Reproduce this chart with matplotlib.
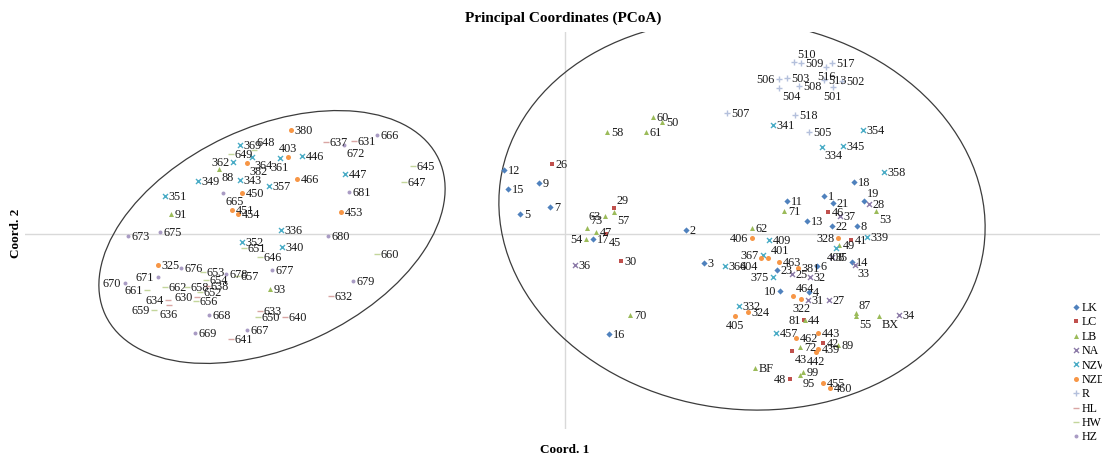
import matplotlib
matplotlib.use("Agg")
import matplotlib.pyplot as plt
from matplotlib.patches import Ellipse

plt.rcParams['font.family'] = ['Liberation Serif', 'DejaVu Serif']

# Dados: coordenadas estimadas (Coord. 1, Coord. 2) por grupo
lk_ids = ['1', '2', '3', '4', '5', '6', '7', '8', '9', '10', '11', '12', '13', '14',
          '15', '16', '17', '18', '19', '21', '22', '23']
lk_x = [2.59, 1.21, 1.39, 2.44, -0.45, 2.52, -0.15, 2.92, -0.26, 2.15, 2.22, -0.61, 2.42, 2.87,
        -0.57, 0.44, 0.28, 2.89, 2.99, 2.68, 2.67, 2.12]
lk_y = [0.38, 0.04, -0.29, -0.58, 0.20, -0.32, 0.27, 0.08, 0.51, -0.57, 0.33, 0.64, 0.13, -0.28,
        0.45, -1.00, -0.05, 0.52, 0.33, 0.31, 0.08, -0.36]

lc_ids = ['26', '29', '30', '41', '42', '43', '44', '45', '46', '48']
lc_x = [-0.13, 0.49, 0.56, 2.86, 2.58, 2.27, 2.39, 0.41, 2.63, 2.25]
lc_y = [0.70, 0.26, -0.27, -0.06, -1.09, -1.17, -0.86, 0.00, 0.22, -1.45]

lb_ids = ['47', '49', '50', '53', '54', '55', '57', '58', '60', '61', '62', '63', '70', '71',
          '72', '73', '81', '87', '88', '89', '91', '93', '95', '99', 'BF', 'BX']
lb_x = [0.31, 2.74, 0.97, 3.11, 0.21, 2.91, 0.49, 0.42, 0.88, 0.81, 1.87, 0.40, 0.65, 2.19,
        2.35, 0.22, 2.40, 2.91, -3.46, 2.73, -3.94, -2.95, 2.35, 2.38, 1.90, 3.14]
lb_y = [0.02, -0.11, 1.12, 0.23, -0.05, -0.82, 0.22, 1.02, 1.17, 1.02, 0.06, 0.18, -0.81, 0.23,
        -1.13, 0.06, -0.86, -0.79, 0.65, -1.11, 0.20, -0.55, -1.41, -1.38, -1.34, -0.82]

na_ids = ['25', '27', '28', '31', '32', '33', '34', '35', '36', '37']
na_x = [2.27, 2.64, 3.04, 2.43, 2.45, 2.90, 3.34, 2.67, 0.10, 2.75]
na_y = [-0.40, -0.66, 0.30, -0.66, -0.43, -0.31, -0.81, -0.23, -0.31, 0.18]

nzw_ids = ['332', '334', '336', '339', '340', '341', '343', '345', '349', '351', '352', '354',
           '357', '358', '361', '362', '364', '366', '367', '369', '375', '408', '409', '446',
           '447', '457']
nzw_x = [1.74, 2.57, -2.84, 3.02, -2.83, 2.08, -3.25, 2.78, -3.67, -4.00, -3.23, 2.98,
         -2.96, 3.19, -2.85, -3.32, -3.13, 1.60, 1.98, -3.25, 2.08, 2.71, 2.04, -2.63,
         -2.20, 2.11]
nzw_y = [-0.72, 0.87, 0.04, -0.03, -0.13, 1.09, 0.54, 0.88, 0.53, 0.38, -0.08, 1.04,
         0.48, 0.62, 0.76, 0.72, 0.77, -0.32, -0.21, 0.89, -0.43, -0.14, -0.06, 0.78,
         0.60, -0.99]

nzd_ids = ['322', '324', '325', '328', '380', '381', '382', '401', '403', '404', '405', '406',
           '439', '442', '443', '450', '451', '453', '454', '455', '460', '462', '463', '464',
           '466']
nzd_x = [2.36, 1.83, -4.07, 2.73, -2.74, 2.33, -3.18, 2.03, -2.77, 1.96, 1.70, 1.87,
         2.53, 2.51, 2.53, -3.23, -3.33, -2.24, -3.27, 2.58, 2.65, 2.31, 2.14, 2.28,
         -2.68]
nzd_y = [-0.65, -0.78, -0.31, -0.04, 1.04, -0.34, 0.71, -0.24, 0.77, -0.24, -0.82, -0.04,
         -1.15, -1.18, -0.99, 0.41, 0.24, 0.22, 0.20, -1.49, -1.54, -1.04, -0.28, -0.62,
         0.55]

r_ids = ['501', '502', '503', '504', '505', '506', '507', '508', '509', '510', '513', '516',
         '517', '518']
r_x = [2.68, 2.77, 2.22, 2.14, 2.44, 2.14, 1.62, 2.34, 2.36, 2.29, 2.59, 2.61, 2.67, 2.30]
r_y = [1.47, 1.53, 1.56, 1.46, 1.02, 1.55, 1.21, 1.48, 1.71, 1.72, 1.54, 1.67, 1.71, 1.19]

hl_ids = ['630', '631', '632', '633', '634', '636', '637', '638', '640', '641']
hl_x = [-3.68, -2.11, -2.34, -3.05, -3.97, -3.96, -2.39, -3.58, -2.80, -3.34]
hl_y = [-0.63, 0.93, -0.62, -0.77, -0.66, -0.71, 0.92, -0.52, -0.83, -1.05]

hw_ids = ['645', '646', '647', '648', '649', '650', '651', '652', '653', '654', '656', '657',
          '658', '659', '660', '661', '662']
hw_x = [-1.52, -3.05, -1.61, -3.11, -3.34, -3.07, -3.21, -3.65, -3.62, -3.59, -3.69, -3.28,
        -3.78, -4.11, -1.88, -4.18, -4.00]
hw_y = [0.68, -0.23, 0.52, 0.84, 0.80, -0.83, -0.14, -0.58, -0.38, -0.46, -0.67, -0.42,
        -0.53, -0.76, -0.20, -0.56, -0.53]

hz_ids = ['665', '666', '667', '668', '669', '670', '671', '672', '673', '675', '676', '677',
          '678', '679', '680', '681']
hz_x = [-3.42, -1.88, -3.18, -3.56, -3.70, -4.40, -4.07, -2.21, -4.37, -4.05, -3.84, -2.93,
        -3.39, -2.12, -2.37, -2.16]
hz_y = [0.41, 0.99, -0.96, -0.81, -0.99, -0.49, -0.43, 0.89, -0.02, 0.02, -0.34, -0.36,
        -0.40, -0.47, -0.02, 0.42]

grupos = [
    ('LK', lk_ids, lk_x, lk_y, 'D', '#4F81BD', 10),
    ('LC', lc_ids, lc_x, lc_y, 's', '#C0504D', 11),
    ('LB', lb_ids, lb_x, lb_y, '^', '#9BBB59', 13),
    ('NA', na_ids, na_x, na_y, 'x', '#8C7BA8', 13),
    ('NZW', nzw_ids, nzw_x, nzw_y, 'x', '#4BACC6', 13),
    ('NZD', nzd_ids, nzd_x, nzd_y, 'o', '#F79646', 13),
    ('R', r_ids, r_x, r_y, '+', '#B4C0DC', 15),
    ('HL', hl_ids, hl_x, hl_y, '_', '#D9A5A3', 15),
    ('HW', hw_ids, hw_x, hw_y, '_', '#C3D69B', 18),
    ('HZ', hz_ids, hz_x, hz_y, 'o', '#A99BC4', 8),
]

# posição do rótulo quando não fica à direita do ponto
pos_rotulo = {
    '63': 'l', '54': 'l', '406': 'l', '328': 'l', '367': 'l', '375': 'l', '10': 'l',
    '48': 'l', '81': 'l', '362': 'l', '630': 'l', '634': 'l', '659': 'l', '661': 'l',
    '670': 'l', '671': 'l', '506': 'l',
    '665': 'br', '57': 'br', '45': 'br', '33': 'br', '53': 'br', '43': 'br', '95': 'br',
    'BX': 'br', '334': 'br', '672': 'br', '504': 'br', '382': 'br', '88': 'br', '364': 'br',
    '55': 'br',
    '408': 'b', '322': 'b', '405': 'b', '442': 'b', '636': 'b', '501': 'b', '516': 'b',
    '361': 'b', '404': 'bl',
    '19': 'ar', '510': 'ar', '464': 'ar', '401': 'ar', '648': 'ar', '29': 'ar', '73': 'ar',
    '87': 'ar', '403': 'a',
}
deslocamentos = {
    'r': ((2.8, 0), 'left', 'center'),
    'l': ((-2.8, 0), 'right', 'center'),
    'b': ((0, -2.5), 'center', 'top'),
    'br': ((2, -1.5), 'left', 'top'),
    'bl': ((-2, -1.5), 'right', 'top'),
    'ar': ((2, 1.5), 'left', 'bottom'),
    'a': ((0, 2.5), 'center', 'bottom'),
}

fig = plt.figure(figsize=(11.02, 4.6), dpi=100)
ax = fig.add_axes([25 / 1102, 30 / 460, 1075 / 1102, 397 / 460])
ax.set_xlim(-5.40, 5.35)
ax.set_ylim(-1.95, 2.02)
for lado in ax.spines.values():
    lado.set_visible(False)
ax.set_xticks([])
ax.set_yticks([])
ax.axhline(0, color='#d9d9d9', lw=1, zorder=0)
ax.axvline(0, color='#d9d9d9', lw=1, zorder=0)

# elipses agrupando os dois conjuntos
ax.add_patch(Ellipse((-2.93, -0.03), 3.68, 2.20, angle=25, fill=False,
                     edgecolor='#3c3c3c', lw=0.9))
ax.add_patch(Ellipse((1.77, 0.19), 4.88, 3.88, angle=-8, fill=False,
                     edgecolor='#3c3c3c', lw=0.9))

handles = []
for nome, ids, xs, ys, marc, cor, tam in grupos:
    if marc in ('x', '+', '_'):
        h = ax.scatter(xs, ys, marker=marc, c=cor, s=tam, linewidths=1.0, zorder=3, label=nome)
    else:
        h = ax.scatter(xs, ys, marker=marc, c=cor, s=tam, linewidths=0, zorder=3, label=nome)
    handles.append(h)
    for rot, x, y in zip(ids, xs, ys):
        off, ha, va = deslocamentos[pos_rotulo.get(rot, 'r')]
        ax.annotate(rot, (x, y), xytext=off, textcoords='offset points',
                    ha=ha, va=va, fontsize=8.8, color='#1a1a1a', zorder=4)

fig.text(563 / 1102, 1 - 18 / 460, 'Principal Coordinates (PCoA)', ha='center', va='center',
         fontsize=11, fontweight='bold')
fig.text(565 / 1102, 1 - 450 / 460, 'Coord. 1', ha='center', va='center',
         fontsize=9.5, fontweight='bold')
fig.text(16 / 1102, 1 - 233 / 460, 'Coord. 2', ha='center', va='center', rotation=90,
         fontsize=9.5, fontweight='bold')

fig.legend(handles=handles, loc='upper left', bbox_to_anchor=(1073 / 1102, 1 - 302 / 460),
           frameon=False, fontsize=8.6, handlelength=0.5, handletextpad=0.25,
           borderpad=0, borderaxespad=0, labelspacing=0.2, markerscale=1.0)

fig.savefig('out.png', dpi=100)
